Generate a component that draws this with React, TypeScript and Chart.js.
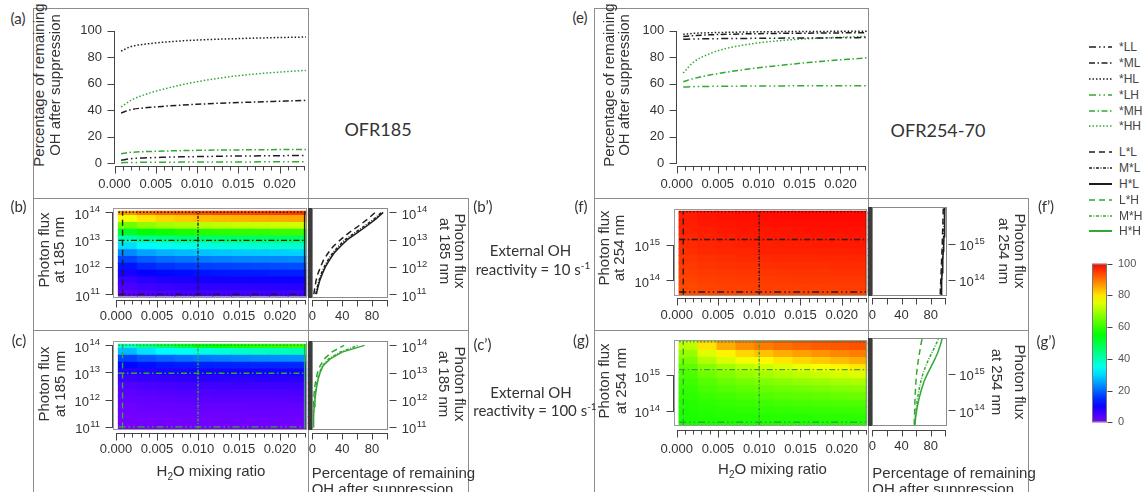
import React, { useEffect, useRef } from "react";
import { Chart, registerables } from "chart.js";

Chart.register(...registerables);

// ---------------- fonts / colours ----------------
const SANS = "'Liberation Sans', Arial, Helvetica, sans-serif";
const CAL = "Lato, 'Open Sans', sans-serif";
const INK = "#333";
const AXIS = "#444";
const BLACK = "#1e1e1e";
const GREEN = "#33a833";

// ---------------- data ----------------
// H2O mixing ratio (x of panels a, e)
const waterLine = [0.0008, 0.002, 0.004, 0.006, 0.008, 0.01, 0.012, 0.014, 0.016, 0.018, 0.02, 0.022, 0.0232];

// (a) OFR185 : % remaining OH vs H2O (flux level * k level)
const ofr185_LL = [2.4, 3.5, 4.2, 4.6, 4.9, 5.1, 5.3, 5.5, 5.6, 5.7, 5.8, 5.9, 6.0];
const ofr185_ML = [38, 40.5, 42, 43, 43.8, 44.5, 45.1, 45.6, 46, 46.4, 46.8, 47.2, 47.5];
const ofr185_HL = [84.5, 88, 90, 91.3, 92.2, 92.9, 93.4, 93.8, 94.2, 94.5, 94.8, 95, 95.2];
const ofr185_LH = [0.5, 0.7, 0.8, 0.9, 0.95, 1, 1.05, 1.1, 1.1, 1.15, 1.2, 1.2, 1.2];
const ofr185_MH = [7.3, 8.3, 8.9, 9.3, 9.6, 9.8, 10, 10.1, 10.2, 10.3, 10.4, 10.5, 10.5];
const ofr185_HH = [42.5, 47.5, 52.5, 56, 59, 61.5, 63.5, 65.3, 66.7, 67.8, 68.8, 69.6, 70];

// (e) OFR254-70
const ofr254_LL = [93.5, 93.7, 93.9, 94, 94.1, 94.2, 94.3, 94.4, 94.5, 94.5, 94.6, 94.7, 94.8];
const ofr254_ML = [95.5, 96.2, 96.8, 97.2, 97.5, 97.7, 97.9, 98, 98.1, 98.2, 98.3, 98.4, 98.4];
const ofr254_HL = [97.2, 97.9, 98.4, 98.7, 98.9, 99.1, 99.2, 99.3, 99.4, 99.4, 99.5, 99.5, 99.5];
const ofr254_LH = [57.5, 57.8, 58, 58.1, 58.2, 58.3, 58.3, 58.4, 58.4, 58.4, 58.5, 58.5, 58.5];
const ofr254_MH = [61.5, 63.8, 66.5, 68.6, 70.4, 72, 73.4, 74.7, 75.9, 77, 78, 78.9, 79.5];
const ofr254_HH = [68, 76, 82.5, 86.5, 89, 90.8, 92.1, 93.1, 93.9, 94.5, 95, 95.4, 95.6];

// heat-map grid: H2O column centres, log10(photon flux) row centres
const heatWater = [0.00145, 0.00375, 0.00605, 0.00835, 0.01065, 0.01295, 0.01525, 0.01755, 0.01985, 0.02215];
const heatWaterSpan = [0.0003, 0.0233];
const flux185 = [11, 11.25, 11.5, 11.75, 12, 12.25, 12.5, 12.75, 13, 13.25, 13.5, 13.75, 14];
const flux185Span = [10.94, 14.035];
const flux254 = [13.6, 13.8, 14.0, 14.2, 14.4, 14.6, 14.8, 15.0, 15.2, 15.4, 15.6, 15.8, 16.0];
const flux254Span = [13.6, 15.96];

// L / M / H levels marked on the heat maps
const waterLevels = [0.0008, 0.01, 0.023];
const flux185Levels = [11, 12.97, 14];
const flux254Levels = [13.67, 15.16, 15.95];

// (b) OFR185, ext. OH reactivity 10 s-1 (rows = flux185, cols = heatWater)
const heat185k10 = [
  [2.9, 3.8, 4.4, 4.7, 5, 5.1, 5.3, 5.4, 5.5, 5.6],
  [4.6, 5.7, 6.3, 6.7, 7, 7.2, 7.4, 7.5, 7.7, 7.8],
  [6.3, 7.7, 8.4, 8.9, 9.3, 9.5, 9.7, 9.9, 10, 10.1],
  [9, 10.7, 11.7, 12.2, 12.7, 13, 13.2, 13.4, 13.6, 13.7],
  [12.7, 14.5, 15.5, 16.1, 16.6, 16.9, 17.2, 17.4, 17.6, 17.7],
  [17, 19.2, 20.5, 21.2, 21.8, 22.2, 22.6, 22.8, 23, 23.2],
  [23, 25.3, 26.6, 27.4, 28, 28.4, 28.7, 29, 29.2, 29.4],
  [30.5, 33, 34.6, 35.5, 36.2, 36.7, 37.1, 37.4, 37.7, 37.9],
  [40.5, 42.8, 44.1, 45, 45.6, 46.1, 46.5, 46.8, 47, 47.2],
  [52, 55, 56.5, 57.6, 58.4, 59, 59.5, 59.8, 60.2, 60.4],
  [65, 68, 69.5, 70.6, 71.4, 72, 72.5, 72.8, 73.2, 73.4],
  [77, 80, 81.6, 82.6, 83.4, 84, 84.5, 84.8, 85.2, 85.4],
  [87, 89.8, 91.3, 92.2, 92.9, 93.5, 93.9, 94.3, 94.6, 94.9],
];
// (c) OFR185, ext. OH reactivity 100 s-1
const heat185k100 = [
  [0.6, 0.8, 0.9, 0.9, 1, 1, 1, 1.1, 1.1, 1.1],
  [0.8, 1, 1.2, 1.3, 1.3, 1.4, 1.4, 1.4, 1.5, 1.5],
  [1.2, 1.5, 1.6, 1.7, 1.8, 1.8, 1.9, 1.9, 2, 2],
  [1.6, 2, 2.2, 2.3, 2.4, 2.5, 2.5, 2.6, 2.6, 2.7],
  [2.3, 2.7, 3, 3.2, 3.3, 3.4, 3.4, 3.5, 3.5, 3.6],
  [3, 3.6, 3.9, 4.1, 4.2, 4.3, 4.4, 4.5, 4.5, 4.6],
  [4, 4.7, 5.1, 5.4, 5.5, 5.7, 5.8, 5.8, 5.9, 6],
  [5.7, 6.4, 6.8, 7.1, 7.3, 7.4, 7.5, 7.6, 7.7, 7.8],
  [7.7, 8.4, 8.8, 9.1, 9.3, 9.4, 9.5, 9.6, 9.7, 9.8],
  [11.5, 12.5, 13.1, 13.5, 13.8, 14, 14.1, 14.3, 14.4, 14.5],
  [16.9, 18.7, 19.9, 21, 21.7, 22.3, 22.9, 23.3, 23.6, 23.8],
  [27.5, 30.8, 32.9, 34.7, 35.9, 37.1, 38, 38.7, 39.3, 39.7],
  [38, 44, 48, 51, 54, 56, 57.5, 58.5, 59.5, 60],
];
// (f) OFR254-70, 10 s-1 (rows = flux254)
const heat254k10 = [
  [93.3, 93.6, 93.8, 93.9, 94, 94.1, 94.1, 94.1, 94.2, 94.2],
  [93.7, 94.1, 94.3, 94.4, 94.5, 94.5, 94.6, 94.6, 94.7, 94.7],
  [94.2, 94.5, 94.7, 94.8, 94.9, 95, 95.1, 95.1, 95.2, 95.2],
  [94.6, 95, 95.2, 95.3, 95.4, 95.5, 95.6, 95.6, 95.7, 95.7],
  [95, 95.4, 95.7, 95.8, 95.9, 96, 96.1, 96.1, 96.2, 96.2],
  [95.5, 95.9, 96.2, 96.4, 96.5, 96.6, 96.6, 96.7, 96.7, 96.8],
  [95.9, 96.4, 96.7, 96.8, 97, 97.1, 97.1, 97.2, 97.2, 97.3],
  [96.3, 96.8, 97.1, 97.3, 97.4, 97.5, 97.6, 97.7, 97.7, 97.8],
  [96.6, 97.2, 97.5, 97.7, 97.8, 97.9, 98, 98.1, 98.1, 98.2],
  [97, 97.5, 97.9, 98.1, 98.2, 98.3, 98.4, 98.5, 98.5, 98.6],
  [97.3, 97.9, 98.2, 98.4, 98.6, 98.7, 98.8, 98.9, 98.9, 99],
  [97.6, 98.2, 98.5, 98.7, 98.9, 99, 99.1, 99.2, 99.2, 99.3],
  [97.8, 98.4, 98.7, 98.9, 99.1, 99.2, 99.3, 99.4, 99.4, 99.5],
];
// (g) OFR254-70, 100 s-1
const heat254k100 = [
  [57.5, 57.7, 57.8, 57.9, 57.9, 58, 58.1, 58.1, 58.2, 58.3],
  [57.9, 58.2, 58.4, 58.5, 58.7, 58.8, 58.9, 59, 59.1, 59.2],
  [58.3, 58.8, 59.2, 59.5, 59.7, 60, 60.2, 60.3, 60.5, 60.7],
  [58.7, 59.6, 60.1, 60.6, 61, 61.4, 61.7, 62, 62.3, 62.5],
  [59.3, 60.5, 61.3, 62, 62.6, 63.1, 63.6, 63.9, 64.4, 64.8],
  [60, 61.7, 62.8, 63.7, 64.5, 65.2, 65.7, 66.3, 66.9, 67.4],
  [60.9, 63, 64.5, 65.7, 66.7, 67.6, 68.4, 69.1, 69.9, 70.6],
  [62.1, 64.9, 66.9, 68.5, 69.8, 71, 72.1, 73, 74, 74.9],
  [63.6, 67.2, 69.6, 71.7, 73.4, 74.9, 76.2, 77.3, 78.6, 79.7],
  [66.1, 71, 74.4, 76.6, 78.4, 79.9, 81.3, 82.4, 83.7, 84.8],
  [68.5, 74.8, 78.7, 81.3, 83.2, 84.8, 86.1, 87.1, 88.3, 89.2],
  [71.8, 80.1, 84.9, 87.6, 89.2, 90.4, 91.3, 92, 92.5, 92.9],
  [74, 82.5, 87.5, 90.2, 91.9, 93.1, 94.1, 94.8, 95.3, 95.7],
];

// profiles (b'), (c'), (f'), (g'): % remaining OH at L / M / H water vs flux rows
const prof185k10_L = [2, 3.5, 5, 7.5, 11, 15, 21, 28, 38, 49, 62, 74, 84.5];
const prof185k10_M = [4.6, 6.5, 9, 12, 16, 21, 27, 35, 44, 57, 70, 82.5, 93];
const prof185k10_H = [5.5, 7.5, 10, 13.5, 17.5, 23, 29, 37.5, 47, 60, 73, 85, 95];
const prof185k100_L = [0.4, 0.6, 0.9, 1.3, 1.8, 2.5, 3.4, 5, 7, 10.5, 16, 26, 42.5];
const prof185k100_M = [0.9, 1.2, 1.7, 2.3, 3.1, 4, 5.3, 7, 9.5, 13.5, 22, 37, 61.5];
const prof185k100_H = [1.2, 1.5, 2, 2.7, 3.6, 4.6, 6, 7.8, 10.5, 14.5, 24, 40, 70];
const prof254k10_L = [93, 93.4, 93.8, 94.2, 94.6, 95, 95.4, 95.8, 96.1, 96.4, 96.7, 97, 97.2];
const prof254k10_M = [93.8, 94.3, 94.8, 95.3, 95.8, 96.3, 96.8, 97.3, 97.7, 98.1, 98.5, 98.8, 99];
const prof254k10_H = [94.2, 94.7, 95.2, 95.7, 96.2, 96.8, 97.3, 97.8, 98.2, 98.6, 99, 99.3, 99.5];
const prof254k100_L = [57.4, 57.7, 58, 58.3, 58.7, 59.2, 59.8, 60.6, 61.7, 63.2, 64.8, 66.5, 68.5];
const prof254k100_M = [58.1, 58.8, 59.8, 61, 62.5, 64.3, 66.5, 69.2, 72.8, 77, 82, 86.8, 91.5];
const prof254k100_H = [58.3, 59.3, 60.8, 62.7, 65, 67.7, 71, 75.5, 80.5, 85.5, 89.8, 93.2, 96];

// tick values
const ticksWater = [0, 0.005, 0.01, 0.015, 0.02];
const ticksPct = [0, 20, 40, 60, 80, 100];
const ticksProf = [0, 20, 40, 60, 80, 100];
const labeledProf = [0, 40, 80];
const ticksFlux185 = [11, 12, 13, 14];
const ticksFlux254 = [14, 15];
const colorbarTicks = [0, 20, 40, 60, 80, 100];

// legend
const legendTop = ["*LL", "*ML", "*HL", "*LH", "*MH", "*HH"];
const legendBottom = ["L*L", "M*L", "H*L", "L*H", "M*H", "H*H"];

// line styles: flux level (L, M, H) and water level (L, M, H)
const DASH_FLUX = [[7, 3, 1.5, 3, 1.5, 3], [6, 2.5, 1.5, 2.5], [1.5, 2]];
const DASH_WATER = [[6, 4], [3, 1.5, 1, 1.5], []];

// ---------------- helpers ----------------
const fmtWater = (v: number) => v.toFixed(3);

function cmap(v: number) {
  const c = Math.max(0, Math.min(100, v));
  return `hsl(${(270 * (1 - c / 100)).toFixed(1)}, 100%, 50%)`;
}

// R-style axes: axis line, major & minor tick marks, 10^n labels with real superscripts
const rAxesPlugin: any = {
  id: "rAxes",
  afterDraw(chart: any, _a: any, opts: any) {
    const list = opts && opts.axes;
    if (!list) return;
    const ctx = chart.ctx;
    const ca = chart.chartArea;
    ctx.save();
    ctx.strokeStyle = AXIS;
    ctx.lineWidth = 1;
    ctx.setLineDash([]);
    for (let i = 0; i < list.length; i++) {
      const ax = list[i];
      const s = chart.scales[ax.id];
      const majors: number[] = s.ticks.map((t: any) => t.value);
      const minors: number[] = [];
      if (ax.minor) {
        const k0 = Math.ceil(s.min / ax.minor - 1e-6);
        const k1 = Math.floor(s.max / ax.minor + 1e-6);
        for (let k = k0; k <= k1; k++) minors.push(k * ax.minor);
      }
      const all = majors.concat(minors);
      const lo = Math.min(...all);
      const hi = Math.max(...all);
      ctx.beginPath();
      if (s.isHorizontal()) {
        const y = Math.round(ca.bottom + (ax.offset || 0)) + 0.5;
        if (ax.line !== false) {
          ctx.moveTo(Math.round(s.getPixelForValue(lo)), y);
          ctx.lineTo(Math.round(s.getPixelForValue(hi)) + 1, y);
        }
        for (const v of majors) {
          const p = Math.round(s.getPixelForValue(v)) + 0.5;
          ctx.moveTo(p, y);
          ctx.lineTo(p, y + ax.len);
        }
        for (const v of minors) {
          if (majors.some((m) => Math.abs(m - v) < 1e-9)) continue;
          const p = Math.round(s.getPixelForValue(v)) + 0.5;
          ctx.moveTo(p, y);
          ctx.lineTo(p, y + ax.minorLen);
        }
      } else {
        const right = s.position === "right";
        const x = right ? Math.round(ca.right + (ax.offset || 0)) + 0.5 : Math.round(ca.left - (ax.offset || 0)) - 0.5;
        const d = right ? 1 : -1;
        if (ax.line !== false) {
          ctx.moveTo(x, Math.round(s.getPixelForValue(lo)) + 1);
          ctx.lineTo(x, Math.round(s.getPixelForValue(hi)));
        }
        for (const v of majors) {
          const p = Math.round(s.getPixelForValue(v)) + 0.5;
          ctx.moveTo(x, p);
          ctx.lineTo(x + d * ax.len, p);
        }
        if (ax.pow) {
          ctx.stroke();
          ctx.beginPath();
          ctx.fillStyle = INK;
          ctx.textBaseline = "middle";
          ctx.textAlign = "left";
          const fb = "13px " + SANS;
          const fe = "9.5px " + SANS;
          for (const v of majors) {
            const p = s.getPixelForValue(v);
            const exp = String(Math.round(v));
            ctx.font = fb;
            const wb = ctx.measureText("10").width;
            ctx.font = fe;
            const we = ctx.measureText(exp).width;
            const x0 = right ? ca.right + ax.pow : ca.left - ax.pow - wb - we - 0.5;
            ctx.font = fb;
            ctx.fillText("10", x0, p + 2.8);
            ctx.font = fe;
            ctx.fillText(exp, x0 + wb + 0.5, p - 2.6);
          }
        }
      }
      ctx.stroke();
    }
    ctx.restore();
  },
};

const framePlugin: any = {
  id: "frame",
  afterDatasetsDraw(chart: any, _a: any, o: any) {
    if (!o || !o.color) return;
    const ctx = chart.ctx;
    const ca = chart.chartArea;
    ctx.save();
    ctx.setLineDash([]);
    ctx.strokeStyle = o.color;
    ctx.lineWidth = 1;
    const l = Math.round(ca.left), t = Math.round(ca.top), r = Math.round(ca.right), b = Math.round(ca.bottom);
    ctx.strokeRect(l + 0.5, t + 0.5, r - l - 1, b - t - 1);
    if (o.bar) {
      ctx.fillStyle = o.barColor;
      ctx.fillRect(l - o.bar, t, o.bar, b - t);
    }
    ctx.restore();
  },
};

const colorbarPlugin: any = {
  id: "cbar",
  beforeDatasetsDraw(chart: any, _a: any, o: any) {
    if (!o || !o.on) return;
    const ctx = chart.ctx;
    const ca = chart.chartArea;
    const y = chart.scales.y;
    const y0 = y.getPixelForValue(0);
    const y1 = y.getPixelForValue(100);
    const g = ctx.createLinearGradient(0, y0, 0, y1);
    for (let v = 0; v <= 100; v += 5) g.addColorStop(v / 100, cmap(v));
    ctx.save();
    ctx.fillStyle = g;
    ctx.fillRect(ca.left, y1, ca.right - ca.left, y0 - y1);
    ctx.restore();
  },
};

Chart.register(rAxesPlugin, framePlugin, colorbarPlugin);

type Area = { l: number; t: number; r: number; b: number };
type Spec = { key: string; area: Area; leftW: number; rightW: number; bottomH: number; make: (p: any) => any };

const PAD = 16;
function frameFor(sp: Spec) {
  const a = sp.area;
  const x0 = Math.floor(a.l - sp.leftW - PAD);
  const y0 = Math.floor(a.t - PAD);
  const x1 = Math.ceil(a.r + sp.rightW + PAD);
  const y1 = Math.ceil(a.b + sp.bottomH + PAD);
  return {
    x0, y0, w: x1 - x0, h: y1 - y0,
    padding: { left: a.l - sp.leftW - x0, top: a.t - y0, right: x1 - a.r - sp.rightW, bottom: y1 - a.b - sp.bottomH },
  };
}

function common(padding: any, plugins: any) {
  return {
    animation: false,
    responsive: false,
    maintainAspectRatio: false,
    devicePixelRatio: 1,
    events: [],
    layout: { padding },
    plugins: { legend: { display: false }, tooltip: { enabled: false }, ...plugins },
  };
}

function xAxis(o: any) {
  return {
    type: "linear",
    position: "bottom",
    min: o.min,
    max: o.max,
    offset: false,
    afterFit: (s: any) => { s.height = o.h; },
    afterBuildTicks: (s: any) => { s.ticks = o.ticks.map((v: number) => ({ value: v })); },
    grid: { display: false, drawTicks: false },
    border: { display: false },
    ticks: { autoSkip: false, maxRotation: 0, minRotation: 0, padding: o.pad, font: { family: SANS, size: 13 }, color: INK, callback: (v: number) => o.label(v) },
  };
}

function yAxis(o: any) {
  return {
    type: "linear",
    position: o.pos,
    min: o.min,
    max: o.max,
    stacked: false,
    afterFit: (s: any) => { s.width = o.w; },
    afterBuildTicks: (s: any) => { s.ticks = o.ticks.map((v: number) => ({ value: v })); },
    grid: { display: false, drawTicks: false },
    border: { display: false },
    ticks: { autoSkip: false, padding: o.pad, font: { family: SANS, size: o.size || 13 }, color: o.color || INK, callback: (v: number) => o.label(v) },
  };
}

const noLabel = () => "";

function lineConfig(p: any, series: number[][], xMax: number, xPad: number) {
  const colors = [BLACK, BLACK, BLACK, GREEN, GREEN, GREEN];
  return {
    type: "line",
    data: {
      datasets: series.map((vals, i) => ({
        data: waterLine.map((w, j) => ({ x: w, y: vals[j] })),
        borderColor: colors[i],
        borderDash: DASH_FLUX[i % 3],
        borderWidth: 1.5,
        pointRadius: 0,
        cubicInterpolationMode: "monotone",
        fill: false,
      })),
    },
    options: {
      ...common(p, { rAxes: { axes: [{ id: "x", offset: 0, len: 7, minor: 0.001, minorLen: 4 }, { id: "y", offset: 0, len: 7 }] } }),
      scales: {
        x: xAxis({ min: 0, max: xMax, ticks: ticksWater, label: fmtWater, h: 30, pad: xPad }),
        y: yAxis({ min: -2.2, max: 104, ticks: ticksPct, label: (v: number) => String(v), w: 50, pad: 12.5, pos: "left" }),
      },
    },
  };
}

function heatConfig(p: any, o: any) {
  const half = (o.rows[1] - o.rows[0]) / 2;
  const bars = o.rows.map((r: number, i: number) => ({
    type: "bar",
    order: 2,
    stack: "hm",
    barPercentage: 1,
    categoryPercentage: 1,
    borderWidth: 0,
    inflateAmount: 0.6,
    backgroundColor: o.vals[i].map(cmap),
    data: heatWater.map((c) => ({ x: c, y: [Math.max(r - half, o.fluxSpan[0]), Math.min(r + half, o.fluxSpan[1])] })),
  }));
  const hl = o.fluxLv.map((f: number, i: number) => ({
    type: "line", order: 0,
    data: [{ x: heatWaterSpan[0], y: f }, { x: heatWaterSpan[1], y: f }],
    borderColor: o.color, borderDash: DASH_FLUX[i], borderWidth: 1.4, pointRadius: 0,
  }));
  const vl = waterLevels.map((w: number, i: number) => ({
    type: "line", order: 0,
    data: [{ x: w, y: o.fluxSpan[0] }, { x: w, y: o.fluxSpan[1] }],
    borderColor: o.color, borderDash: DASH_WATER[i], borderWidth: 1.4, pointRadius: 0,
  }));
  return {
    type: "bar",
    data: { datasets: [...bars, ...hl, ...vl] },
    options: {
      ...common(p, {
        frame: { color: "#9a9a9a" },
        rAxes: { axes: [{ id: "x", offset: o.xOff, len: 7, minor: 0.001, minorLen: 4 }, { id: "y", offset: 0, len: 7, pow: o.yPad }] },
      }),
      scales: {
        x: xAxis({ min: o.xMin, max: o.xMax, ticks: ticksWater, label: fmtWater, h: 30, pad: o.xPad }),
        y: yAxis({ min: o.yMin, max: o.yMax, ticks: o.yTicks, label: noLabel, w: 60, pad: o.yPad, pos: "left" }),
      },
    },
  };
}

function profConfig(p: any, o: any) {
  return {
    type: "line",
    data: {
      datasets: o.series.map((vals: number[], i: number) => ({
        data: o.rows.map((r: number, j: number) => ({ x: vals[j], y: r })),
        borderColor: o.color,
        borderDash: DASH_WATER[i],
        borderWidth: 1.5,
        pointRadius: 0,
        tension: 0,
        fill: false,
      })),
    },
    options: {
      ...common(p, {
        frame: { color: "#8a8a8a", bar: 4, barColor: "#3c3c3c" },
        rAxes: { axes: [{ id: "x", offset: o.xOff, len: 6 }, { id: "y", offset: 1, len: 7, line: false, pow: o.yPad }] },
      }),
      scales: {
        x: xAxis({ min: o.xMin, max: o.xMax, ticks: ticksProf, label: (v: number) => (labeledProf.includes(v) ? String(v) : ""), h: 30, pad: o.xPad }),
        y: yAxis({ min: o.yMin, max: o.yMax, ticks: o.yTicks, label: noLabel, w: 45, pad: o.yPad, pos: "right" }),
      },
    },
  };
}

const SPECS: Spec[] = [
  {
    key: "a", area: { l: 114.5, t: 21.2, r: 308.4, b: 166.3 }, leftW: 50, rightW: 0, bottomH: 30,
    make: (p) => lineConfig(p, [ofr185_LL, ofr185_ML, ofr185_HL, ofr185_LH, ofr185_MH, ofr185_HH], 0.0235, 9.9),
  },
  {
    key: "e", area: { l: 676.7, t: 21.2, r: 867.5, b: 166.3 }, leftW: 50, rightW: 0, bottomH: 30,
    make: (p) => lineConfig(p, [ofr254_LL, ofr254_ML, ofr254_HL, ofr254_LH, ofr254_MH, ofr254_HH], 0.0233, 9.9),
  },
  {
    key: "b", area: { l: 113.3, t: 203.3, r: 307.3, b: 297.7 }, leftW: 60, rightW: 0, bottomH: 30,
    make: (p) => heatConfig(p, { rows: flux185, vals: heat185k10, fluxSpan: flux185Span, fluxLv: flux185Levels, color: BLACK, xMin: -0.00033, xMax: 0.02333, yMin: 10.871, yMax: 14.153, yTicks: ticksFlux185, xOff: 2.6, xPad: 10.5, yPad: 13.3 }),
  },
  {
    key: "bp", area: { l: 312, t: 203.3, r: 388.3, b: 297.7 }, leftW: 0, rightW: 45, bottomH: 30,
    make: (p) => profConfig(p, { rows: flux185, series: [prof185k10_L, prof185k10_M, prof185k10_H], color: BLACK, xMin: -0.4, xMax: 101.9, yMin: 10.871, yMax: 14.153, yTicks: ticksFlux185, xOff: 2.6, xPad: 10.5, yPad: 13.4 }),
  },
  {
    key: "c", area: { l: 113.3, t: 336, r: 307.3, b: 430.4 }, leftW: 60, rightW: 0, bottomH: 30,
    make: (p) => heatConfig(p, { rows: flux185, vals: heat185k100, fluxSpan: flux185Span, fluxLv: flux185Levels, color: GREEN, xMin: -0.00033, xMax: 0.02333, yMin: 10.871, yMax: 14.153, yTicks: ticksFlux185, xOff: 2.6, xPad: 10.8, yPad: 13.3 }),
  },
  {
    key: "cp", area: { l: 312, t: 336, r: 388.3, b: 430.4 }, leftW: 0, rightW: 45, bottomH: 30,
    make: (p) => profConfig(p, { rows: flux185, series: [prof185k100_L, prof185k100_M, prof185k100_H], color: GREEN, xMin: -0.4, xMax: 101.9, yMin: 10.871, yMax: 14.153, yTicks: ticksFlux185, xOff: 2.6, xPad: 10.8, yPad: 13.4 }),
  },
  {
    key: "f", area: { l: 674.3, t: 203.3, r: 867.3, b: 295.7 }, leftW: 60, rightW: 0, bottomH: 30,
    make: (p) => heatConfig(p, { rows: flux254, vals: heat254k10, fluxSpan: flux254Span, fluxLv: flux254Levels, color: BLACK, xMin: -0.00029, xMax: 0.0231, yMin: 13.564, yMax: 16.021, yTicks: ticksFlux254, xOff: 2.6, xPad: 12.2, yPad: 14.3 }),
  },
  {
    key: "fp", area: { l: 872, t: 203.3, r: 947.3, b: 295.7 }, leftW: 0, rightW: 45, bottomH: 30,
    make: (p) => profConfig(p, { rows: flux254, series: [prof254k10_L, prof254k10_M, prof254k10_H], color: BLACK, xMin: -0.4, xMax: 102.7, yMin: 13.564, yMax: 16.021, yTicks: ticksFlux254, xOff: 2.6, xPad: 12.2, yPad: 12 }),
  },
  {
    key: "g", area: { l: 674.3, t: 334, r: 867.3, b: 426.3 }, leftW: 60, rightW: 0, bottomH: 30,
    make: (p) => heatConfig(p, { rows: flux254, vals: heat254k100, fluxSpan: flux254Span, fluxLv: flux254Levels, color: GREEN, xMin: -0.00029, xMax: 0.0231, yMin: 13.556, yMax: 15.997, yTicks: ticksFlux254, xOff: 3.7, xPad: 14.9, yPad: 14.3 }),
  },
  {
    key: "gp", area: { l: 872, t: 334, r: 947.3, b: 426.3 }, leftW: 0, rightW: 45, bottomH: 30,
    make: (p) => profConfig(p, { rows: flux254, series: [prof254k100_L, prof254k100_M, prof254k100_H], color: GREEN, xMin: -0.4, xMax: 102.7, yMin: 13.556, yMax: 15.997, yTicks: ticksFlux254, xOff: 3.7, xPad: 12.6, yPad: 12 }),
  },
  {
    key: "cbar", area: { l: 1092, t: 262, r: 1107, b: 424 }, leftW: 0, rightW: 30, bottomH: 0,
    make: (p) => ({
      type: "line",
      data: { datasets: [] },
      options: {
        ...common(p, { frame: { color: "#777" }, cbar: { on: true }, rAxes: { axes: [{ id: "y", offset: 0, len: 5, line: false }] } }),
        scales: {
          x: { type: "linear", display: false, min: 0, max: 1 },
          y: yAxis({ min: 0, max: 100, ticks: colorbarTicks, label: (v: number) => String(v), w: 30, pad: 11, pos: "right", size: 11, color: "#555" }),
        },
      },
    }),
  },
];

// ---------------- html text ----------------
function T(props: any) {
  const { x, y, children, size = 15, rot = 0, align = "center", font = SANS, color = INK } = props;
  const tx = align === "center" ? "-50%" : align === "left" ? "0%" : "-100%";
  return (
    <div
      style={{
        position: "absolute", left: x, top: y,
        transform: `translate(${tx}, -50%) rotate(${rot}deg)`,
        fontFamily: font, fontSize: size, lineHeight: 1, whiteSpace: "nowrap", color,
      }}
    >
      {children}
    </div>
  );
}

const rules = [
  [33, 8, 1, 484], [33, 8, 275, 1], [308, 8, 1, 484], [33, 198, 435, 1], [33, 330, 435, 1], [468, 198, 1, 294],
  [594, 8, 1, 484], [594, 8, 274, 1], [868, 8, 1, 484], [594, 198, 434, 1], [594, 330, 434, 1], [1028, 198, 1, 294],
];

const legendTopY = [47, 63, 79, 95, 111, 126];
const legendBottomY = [152, 168, 184, 200, 216, 231];

function LegendRow({ y, label, color, dash, w }: any) {
  return (
    <>
      <svg style={{ position: "absolute", left: 1088, top: y - 3, overflow: "visible" }} width={25} height={6}>
        <line x1={1} y1={3} x2={24} y2={3} stroke={color} strokeWidth={w} strokeDasharray={dash.length ? dash.join(" ") : undefined} />
      </svg>
      <T x={1119} y={y} size={12} align="left" color="#444">{label}</T>
    </>
  );
}

const sup = (s: string) => <span style={{ fontSize: 10, position: "relative", top: -6 }}>{s}</span>;
const sub2 = <span style={{ fontSize: 10, position: "relative", top: 4 }}>2</span>;

export default function App() {
  const refs = useRef<(HTMLCanvasElement | null)[]>([]);
  useEffect(() => {
    const charts = SPECS.map((sp, i) => {
      const fr = frameFor(sp);
      return new Chart(refs.current[i] as HTMLCanvasElement, sp.make(fr.padding));
    });
    return () => charts.forEach((c) => c.destroy());
  }, []);

  return (
    <div style={{ position: "fixed", left: 0, top: 0, width: 1143, height: 492, background: "#fff", overflow: "hidden" }}>
      {rules.map((r, i) => (
        <div key={"r" + i} style={{ position: "absolute", left: r[0], top: r[1], width: r[2], height: r[3], background: "#8c8c8c" }} />
      ))}
      {SPECS.map((sp, i) => {
        const fr = frameFor(sp);
        return (
          <canvas
            key={sp.key}
            ref={(el) => { refs.current[i] = el; }}
            width={fr.w}
            height={fr.h}
            style={{ position: "absolute", left: fr.x0, top: fr.y0, width: fr.w, height: fr.h }}
          />
        );
      })}

      {/* panel letters */}
      <T x={18} y={17.5} size={15} font={CAL}>(a)</T>
      <T x={18.5} y={206} size={15} font={CAL}>(b)</T>
      <T x={19} y={340} size={15} font={CAL}>(c)</T>
      <T x={580} y={16.5} size={15} font={CAL}>(e)</T>
      <T x={581} y={206} size={15} font={CAL}>(f)</T>
      <T x={581} y={340} size={15} font={CAL}>(g)</T>
      <T x={483} y={206} size={15} font={CAL}>(b’)</T>
      <T x={482.5} y={344} size={15} font={CAL}>(c’)</T>
      <T x={1046} y={206} size={15} font={CAL}>(f’)</T>
      <T x={1046} y={341} size={15} font={CAL}>(g’)</T>

      <T x={378} y={129} size={18} font={CAL}>OFR185</T>
      <T x={938} y={130} size={18} font={CAL}>OFR254-70</T>

      <T x={530.5} y={250} size={15} font={CAL}>External OH</T>
      <T x={475.7} y={269} size={15} font={CAL} align="left">reactivity = 10 s{sup("-1")}</T>
      <T x={531} y={391.7} size={15} font={CAL}>External OH</T>
      <T x={473.3} y={410} size={15} font={CAL} align="left">reactivity = 100 s{sup("-1")}</T>

      {/* y titles */}
      <T x={38} y={85} rot={-90}>Percentage of remaining</T>
      <T x={53.5} y={85} rot={-90}>OH after suppression</T>
      <T x={607.7} y={85} rot={-90}>Percentage of remaining</T>
      <T x={623.3} y={85} rot={-90}>OH after suppression</T>
      <T x={43.3} y={250} rot={-90}>Photon flux</T>
      <T x={58.3} y={250} rot={-90}>at 185 nm</T>
      <T x={43.3} y={384} rot={-90}>Photon flux</T>
      <T x={59.3} y={384} rot={-90}>at 185 nm</T>
      <T x={603.3} y={248} rot={-90}>Photon flux</T>
      <T x={618.3} y={248} rot={-90}>at 254 nm</T>
      <T x={603.3} y={381} rot={-90}>Photon flux</T>
      <T x={620} y={381} rot={-90}>at 254 nm</T>
      <T x={460} y={251} rot={90}>Photon flux</T>
      <T x={445} y={251} rot={90}>at 185 nm</T>
      <T x={460} y={384} rot={90}>Photon flux</T>
      <T x={444} y={384} rot={90}>at 185 nm</T>
      <T x={1020} y={251} rot={90}>Photon flux</T>
      <T x={1004} y={251} rot={90}>at 254 nm</T>
      <T x={1020} y={382} rot={90}>Photon flux</T>
      <T x={997} y={382} rot={90}>at 254 nm</T>

      {/* x titles */}
      <T x={211} y={470}>H{sub2}O mixing ratio</T>
      <T x={772.5} y={468}>H{sub2}O mixing ratio</T>
      <T x={311.7} y={471.7} align="left">Percentage of remaining</T>
      <T x={311.7} y={488.3} align="left">OH after suppression</T>
      <T x={872.3} y={471.7} align="left">Percentage of remaining</T>
      <T x={872.3} y={488.3} align="left">OH after suppression</T>

      {/* legend */}
      {legendTop.map((lab, i) => (
        <LegendRow key={lab} y={legendTopY[i]} label={lab} color={i < 3 ? BLACK : GREEN} dash={DASH_FLUX[i % 3]} w={1.5} />
      ))}
      {legendBottom.map((lab, i) => (
        <LegendRow key={lab} y={legendBottomY[i]} label={lab} color={i < 3 ? BLACK : GREEN} dash={DASH_WATER[i % 3]} w={i % 3 === 2 ? 2 : 1.5} />
      ))}
    </div>
  );
}
